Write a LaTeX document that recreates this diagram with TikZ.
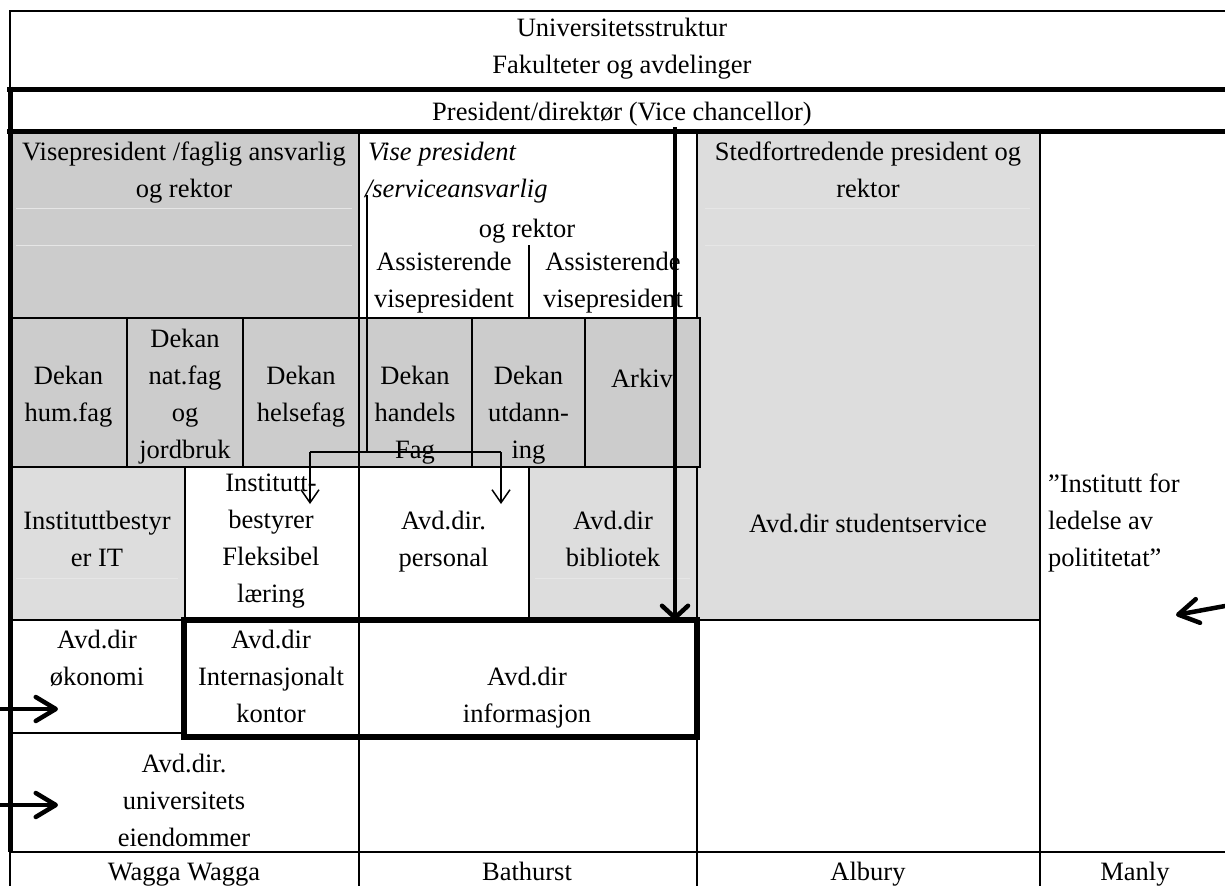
\documentclass[tikz,border=0pt]{standalone}
\usepackage{fontspec}
\setmainfont{Liberation Serif}
\usetikzlibrary{arrows.meta}
\definecolor{cellgray}{HTML}{CCCCCC}
\definecolor{softgray}{HTML}{DDDDDD}
\definecolor{seamgray}{HTML}{E6E6E6}

\begin{document}
\begin{tikzpicture}[x=1pt,y=-1pt,
  thinrule/.style={line width=1.3pt},
  heavyrule/.style={line width=5pt},
  seam/.style={line width=0.8pt, draw=seamgray},
  txt/.style={inner sep=0pt, outer sep=0pt, align=center, anchor=center,
    yshift=-5pt, font=\fontsize{26.5}{37}\selectfont,
    execute at begin node=\strut, execute at end node=\strut},
  txtleft/.style={txt, align=left, anchor=west},
  boldarrow/.style={line width=4.5pt, line cap=round,
    -{Straight Barb[length=20pt,width=24pt,round]}},
  downarrow/.style={line width=4.5pt,
    -{Straight Barb[length=12pt,width=26pt,round]}},
  fineline/.style={line width=1.5pt},
  finearrow/.style={line width=1.5pt, -{Straight Barb[length=13pt,width=18pt]}}
]
\useasboundingbox (0,0) rectangle (1225,886);

% shaded cells
\fill[cellgray] (10,131) rectangle (359,318);
\fill[softgray] (697,131) rectangle (1040,620);
\fill[cellgray] (10,318) rectangle (700,467);
\fill[softgray] (10,467) rectangle (185,620);
\fill[softgray] (529,467) rectangle (697,620);

% light seams left inside the shaded cells
\draw[seam] (16,208) -- (352,208);
\draw[seam] (16,245) -- (352,245);
\draw[seam] (705,208) -- (1030,208);
\draw[seam] (705,245) -- (1035,245);
\draw[seam] (16,578) -- (178,578);
\draw[seam] (535,578) -- (690,578);

% title box
\draw[thinrule] (10,89) -- (10,11) -- (1225,11);

% thin grid lines
\draw[thinrule] (359,131) -- (359,318);
\draw[thinrule] (529,245) -- (529,318);
\draw[thinrule] (697,131) -- (697,318);
\draw[thinrule] (1040,131) -- (1040,886);
\draw[thinrule] (10,318) rectangle (700,467);
\foreach \xx in {127,243,359,472,585} \draw[thinrule] (\xx,318) -- (\xx,467);
\draw[thinrule] (185,467) -- (185,620);
\draw[thinrule] (359,467) -- (359,886);
\draw[thinrule] (529,467) -- (529,620);
\draw[thinrule] (697,467) -- (697,886);
\draw[thinrule] (10,620) -- (1040,620);
\draw[thinrule] (10,733) -- (185,733);
\draw[thinrule] (10,852) -- (1225,852);
\draw[thinrule] (10,852) -- (10,886);

% heavy rules
\draw[heavyrule] (7,89) -- (1225,89);
\draw[heavyrule] (7,131) -- (1225,131);
\draw[heavyrule] (10,86.5) -- (10,852);

% framed group of departments
\node[draw, line width=6pt, minimum width=513pt, minimum height=117pt,
  inner sep=0pt, outer sep=0pt] (focus) at (440.5,678.5) {};

% texts
\node[txt] (uni) at (622,46.5) {Universitetsstruktur\\Fakulteter og avdelinger};
\node[txt] (pres) at (622,108) {President/direktør (Vice chancellor)};
\node[txt] (vpfag) at (184,170.5) {Visepresident /faglig ansvarlig\\og rektor};
\node[txtleft] (vpserv) at (365,170.5) {\itshape\kern3pt Vise president\\\itshape /serviceansvarlig};
\node[txt] (vpsrek) at (527,225) {og rektor};
\node[txt] (assA) at (444,280.5) {Assisterende\\visepresident};
\node[txt] (assB) at (613,280.5) {Assisterende\\visepresident};
\node[txt] (sted) at (868,170) {Stedfortredende president og\\rektor};

\node[txt] (hum) at (68.5,394) {Dekan\\hum.fag};
\node[txt] (nat) at (185,394) {Dekan\\nat.fag\\og\\jordbruk};
\node[txt] (helse) at (301,394) {Dekan\\helsefag};
\node[txt] (handel) at (415,412.5) {Dekan\\handels\\Fag};
\node[txt] (utd) at (528.5,412.5) {Dekan\\utdann-\\ing};
\node[txt] (arkiv) at (642,375) {Arkiv};

\node[txt] (itb) at (97,539) {Instituttbestyr\\er IT};
\node[txt] (flex) at (271,539) {Institutt-\\bestyrer\\Fleksibel\\læring};
\node[txt] (pers) at (443.5,539) {Avd.dir.\\personal};
\node[txt] (bibl) at (613,539) {Avd.dir\\bibliotek};
\node[txt] (stud) at (868,520) {Avd.dir studentservice};
\node[txtleft] (poli) at (1048,520.5) {”Institutt for\\ledelse av\\polititetat”};

\node[txt] (okon) at (97,658.5) {Avd.dir\\økonomi};
\node[txt] (intl) at (271,676.5) {Avd.dir\\Internasjonalt\\kontor};
\node[txt] (info) at (527,695) {Avd.dir\\informasjon};
\node[txt] (eiend) at (184,800.5) {Avd.dir.\\universitets\\eiendommer};

\node[txt] (wagga) at (184,868) {Wagga Wagga};
\node[txt] (bath) at (527,868) {Bathurst};
\node[txt] (albury) at (868,868) {Albury};
\node[txt] (manly) at (1135,868) {Manly};

% connector ends
\coordinate (vcTop) at (675,127);
\coordinate (servTop) at (367,195);
\coordinate (split) at (367,452);
\coordinate (splitL) at (310,452);
\coordinate (splitR) at (501,452);
\coordinate (flexIn) at (310,504);
\coordinate (persIn) at (501,504);
\coordinate (edgeA) at (0,709);
\coordinate (tipA) at (58,709);
\coordinate (edgeB) at (0,805);
\coordinate (tipB) at (58,805);
\coordinate (edgeC) at (1225,606);
\coordinate (tipC) at (1176,615);

% connectors
\draw[downarrow] (vcTop) -- (vcTop |- focus.north);
\draw[fineline] (servTop) -- (split);
\draw[fineline] (splitL) -- (splitR);
\draw[finearrow] (splitL) -- (flexIn);
\draw[finearrow] (splitR) -- (persIn);
\draw[boldarrow] (edgeA) -- (tipA);
\draw[boldarrow] (edgeB) -- (tipB);
\draw[boldarrow] (edgeC) -- (tipC);
\end{tikzpicture}
\end{document}
